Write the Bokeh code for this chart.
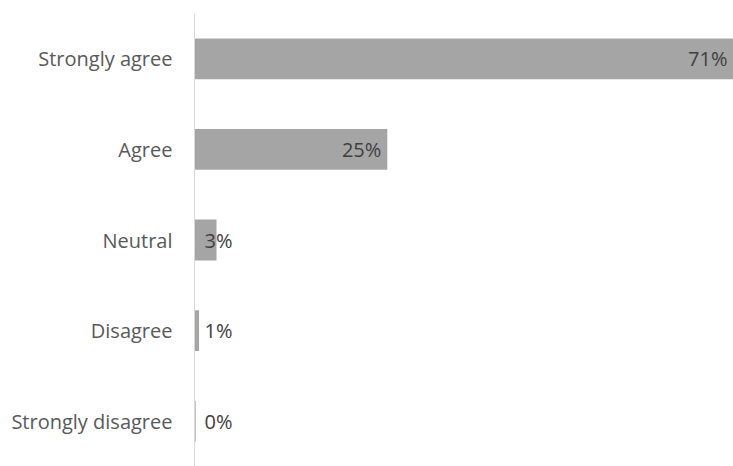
from bokeh.plotting import figure
from bokeh.models import ColumnDataSource, Range1d, FactorRange
from bokeh.core.properties import value
from bokeh.embed import file_html
from bokeh.resources import INLINE

categories = ["Strongly agree", "Agree", "Neutral", "Disagree", "Strongly disagree"]
values = [71.0, 25.4, 2.9, 0.6, 0.15]
value_labels = ["71%", "25%", "3%", "1%", "0%"]

FONT = "Open Sans"
BAR = "#a5a5a5"
TEXT = "#595959"

p = figure(width=733, height=466, output_backend="svg", toolbar_location=None,
           y_range=FactorRange(factors=list(reversed(categories))),
           x_range=Range1d(0, max(values)),
           min_border_left=194, min_border_right=0, min_border_top=13, min_border_bottom=0,
           x_axis_location=None)

src = ColumnDataSource(dict(cat=categories, val=values))
p.hbar(y="cat", right="val", left=0, height=0.45, source=src, color=BAR, line_color=None)

big = [i for i, v in enumerate(values) if v > 10]
small = [i for i, v in enumerate(values) if v <= 10]
src_big = ColumnDataSource(dict(cat=[categories[i] for i in big], val=[values[i] for i in big],
                                lab=[value_labels[i] for i in big]))
src_small = ColumnDataSource(dict(cat=[categories[i] for i in small], val=[0 for i in small],
                                  lab=[value_labels[i] for i in small]))
p.text(x="val", y="cat", text="lab", source=src_big, text_align="right", text_baseline="middle",
       x_offset=-6, text_font=value(FONT), text_font_size="20px", text_color="#404040")
p.text(x="val", y="cat", text="lab", source=src_small, text_align="left", text_baseline="middle",
       x_offset=10, text_font=value(FONT), text_font_size="20px", text_color="#404040")

p.xgrid.visible = False
p.ygrid.visible = False
p.outline_line_color = None
ax = p.yaxis[0]
ax.axis_line_color = "#d9d9d9"
ax.axis_line_width = 1
ax.major_tick_line_color = None
ax.minor_tick_line_color = None
ax.major_tick_out = 0
ax.major_tick_in = 0
ax.major_label_standoff = 22
ax.major_label_text_font = FONT
ax.major_label_text_font_size = "20px"
ax.major_label_text_color = TEXT

open("out.html", "w").write(file_html(p, INLINE))
